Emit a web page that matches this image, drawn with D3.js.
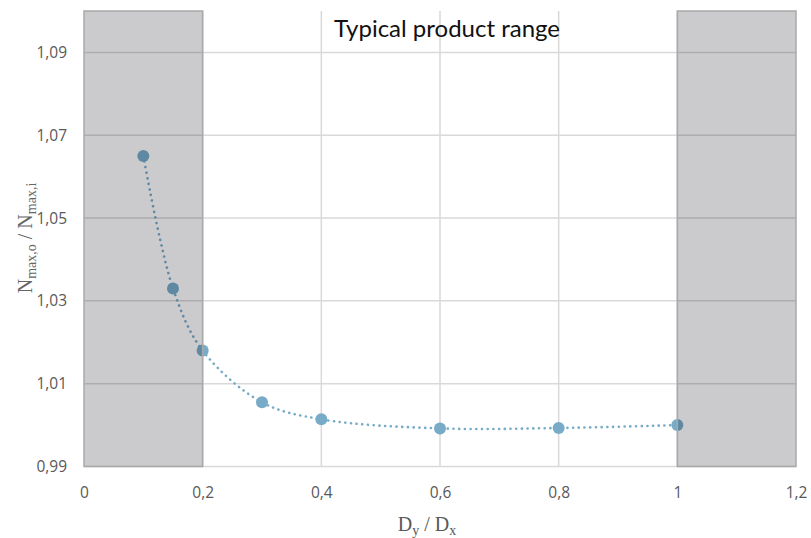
<!DOCTYPE html>
<html>
<head>
<meta charset="utf-8">
<script src="https://cdn.jsdelivr.net/npm/d3@7"></script>
<style>
  body { margin: 0; background: #fff; }
</style>
</head>
<body>
<div id="wrapper"></div>
<script>
// data
const ratioDyDx = [0.1, 0.15, 0.2, 0.3, 0.4, 0.6, 0.8, 1.0]
const nmaxRatio = [1.065, 1.033, 1.018, 1.0055, 1.0014, 0.9992, 0.9993, 1.0000]
const xTicks = [0, 0.2, 0.4, 0.6, 0.8, 1, 1.2]
const yTicks = [0.99, 1.01, 1.03, 1.05, 1.07, 1.09]
const outsideRanges = [[0, 0.2], [1, 1.2]]
const rangeTitle = "Typical product range"

const dataset = ratioDyDx.map((x, i) => ({ x: x, y: nmaxRatio[i] }))

const xAccessor = d => d.x
const yAccessor = d => d.y

let dimensions = {
    width: 811,
    height: 538,
    margin: { top: 11, right: 15, bottom: 71.5, left: 84 },
}
dimensions.boundedWidth = dimensions.width - dimensions.margin.left - dimensions.margin.right
dimensions.boundedHeight = dimensions.height - dimensions.margin.top - dimensions.margin.bottom

const fmt = v => d3.format(".2~f")(v).replace(".", ",")

const wrapper = d3.select("#wrapper")
    .append("svg")
    .attr("width", dimensions.width)
    .attr("height", dimensions.height)

const bounds = wrapper.append("g")
    .attr("transform", `translate(${dimensions.margin.left},${dimensions.margin.top})`)

const xScaler = d3.scaleLinear()
    .domain([0, 1.2])
    .range([0, dimensions.boundedWidth])

const yScaler = d3.scaleLinear()
    .domain([0.99, 1.10])
    .range([dimensions.boundedHeight, 0])

// gridlines
bounds.append("g")
    .selectAll("line")
    .data(yTicks)
    .join("line")
    .attr("x1", 0)
    .attr("x2", dimensions.boundedWidth)
    .attr("y1", d => yScaler(d))
    .attr("y2", d => yScaler(d))
    .attr("stroke", "#d9d9d9")
    .attr("stroke-width", 1.5)

bounds.append("g")
    .selectAll("line")
    .data(xTicks.slice(1, -1))
    .join("line")
    .attr("x1", d => xScaler(d))
    .attr("x2", d => xScaler(d))
    .attr("y1", 0)
    .attr("y2", dimensions.boundedHeight)
    .attr("stroke", "#d9d9d9")
    .attr("stroke-width", 1.5)

// tick labels
const xAxisGen = d3.axisBottom(xScaler)
    .tickValues(xTicks)
    .tickFormat(fmt)
    .tickSize(0)
    .tickPadding(20)
const xAxis = bounds.append("g")
    .attr("transform", `translate(0,${dimensions.boundedHeight})`)
    .call(xAxisGen)
xAxis.select(".domain").remove()
xAxis.selectAll("text")
    .attr("fill", "#595959")
    .attr("font-family", "'Open Sans', sans-serif")
    .attr("font-size", "15.5px")

const yAxisGen = d3.axisLeft(yScaler)
    .tickValues(yTicks)
    .tickFormat(fmt)
    .tickSize(0)
    .tickPadding(17)
const yAxis = bounds.append("g").call(yAxisGen)
yAxis.select(".domain").remove()
yAxis.selectAll("text")
    .attr("fill", "#595959")
    .attr("font-family", "'Open Sans', sans-serif")
    .attr("font-size", "15.5px")

// series
const color = "#77abc7"
const lineGen = d3.line()
    .x(d => xScaler(xAccessor(d)))
    .y(d => yScaler(yAccessor(d)))
    .curve(d3.curveCatmullRom.alpha(0.5))

bounds.append("path")
    .datum(dataset)
    .attr("d", lineGen)
    .attr("fill", "none")
    .attr("stroke", color)
    .attr("stroke-width", 2.6)
    .attr("stroke-linecap", "round")
    .attr("stroke-dasharray", "0.1 5.6")

bounds.append("g")
    .selectAll("circle")
    .data(dataset)
    .join("circle")
    .attr("cx", d => xScaler(xAccessor(d)))
    .attr("cy", d => yScaler(yAccessor(d)))
    .attr("r", 6)
    .attr("fill", color)

// shaded ranges outside the typical product range (drawn on top)
bounds.append("g")
    .selectAll("rect")
    .data(outsideRanges)
    .join("rect")
    .attr("x", d => xScaler(d[0]))
    .attr("y", yScaler(1.10))
    .attr("width", d => xScaler(d[1]) - xScaler(d[0]))
    .attr("height", yScaler(0.99) - yScaler(1.10))
    .attr("fill", "rgb(10,10,22)")
    .attr("fill-opacity", 0.21)
    .attr("stroke", "#a9a9a9")
    .attr("stroke-width", 1.5)

bounds.append("text")
    .attr("x", (xScaler(0.2) + xScaler(1)) / 2 + 7)
    .attr("y", 26)
    .text(rangeTitle)
    .attr("fill", "#111")
    .attr("font-family", "Lato, sans-serif")
    .attr("font-size", "24px")
    .attr("text-anchor", "middle")

// axis titles
const xLabel = wrapper.append("text")
    .attr("x", 427)
    .attr("y", 531)
    .attr("fill", "#595959")
    .attr("font-family", "'Liberation Serif', serif")
    .attr("font-size", "20px")
    .attr("text-anchor", "middle")
xLabel.append("tspan").text("D")
xLabel.append("tspan").text("y").attr("font-size", "14px").attr("dy", 4)
xLabel.append("tspan").text(" / D").attr("dy", -4)
xLabel.append("tspan").text("x").attr("font-size", "14px").attr("dy", 4)

const yLabel = wrapper.append("text")
    .attr("transform", "translate(32,238) rotate(-90)")
    .attr("fill", "#666")
    .attr("font-family", "'Liberation Serif', serif")
    .attr("font-size", "20px")
    .attr("text-anchor", "middle")
yLabel.append("tspan").text("N")
yLabel.append("tspan").text("max,o").attr("font-size", "14px").attr("dy", 4)
yLabel.append("tspan").text(" / N").attr("dy", -4)
yLabel.append("tspan").text("max,i").attr("font-size", "14px").attr("dy", 4)
</script>
</body>
</html>
